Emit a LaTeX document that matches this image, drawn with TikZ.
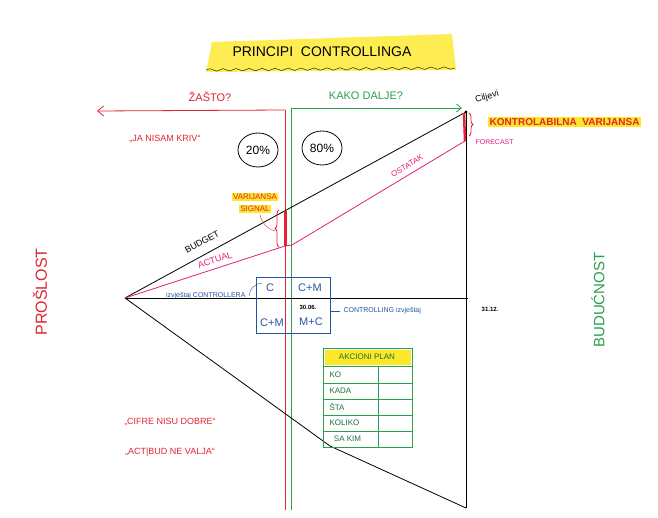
\documentclass[tikz,border=0pt]{standalone}
\usepackage{fontspec}
\setmainfont{Liberation Sans}
\usetikzlibrary{arrows.meta,shapes.geometric,decorations.pathreplacing,decorations.pathmorphing}
\definecolor{penred}{RGB}{226,35,50}
\definecolor{pengreen}{RGB}{40,160,75}
\definecolor{penpink}{RGB}{228,30,125}
\definecolor{penblue}{RGB}{35,85,165}
\definecolor{marker}{RGB}{252,232,40}
\tikzset{
  hand/.style={font=\fontsize{9}{10}\selectfont},
  hl/.style={fill=marker, text=penred, inner sep=1.5pt},
  cell/.style={anchor=west, pengreen!70!black, font=\fontsize{8}{9}\selectfont},
}
\begin{document}
\begin{tikzpicture}[x=1pt,y=-1pt]
\useasboundingbox (0,0) rectangle (658,518);
% title
\fill[marker!80] (212,42) -- (452,34) -- (456,70) -- (206,72) -- cycle;
\node[font=\fontsize{14}{16}\selectfont] (title) at (322,52) {PRINCIPI\ \ CONTROLLINGA};
\draw[decorate,decoration={snake,amplitude=1.2pt,segment length=13pt}] (206,70) -- (455,68);

% key points
\coordinate (apex) at (125,298);
\coordinate (goal) at (466,112);
\coordinate (midbud) at (285,211);
\coordinate (midact) at (285,246);
\coordinate (kink) at (292,245);
\coordinate (forecast) at (465,141);
\coordinate (axisend) at (468,298);
\coordinate (lowbend) at (330,446);
\coordinate (bottom) at (466,508);
\coordinate (past) at (285,110);
\coordinate (pastend) at (97,111);
\coordinate (fut) at (291,108);
\coordinate (futend) at (462,108);

% today lines and arrows
\draw[penred, thick] (past) -- (285,510);
\draw[pengreen, thick] (fut) -- (291,510);
\draw[penred, thick, -{Straight Barb[length=6pt,width=10pt]}] (past) -- (pastend);
\draw[pengreen, thick, -{Straight Barb[length=5pt,width=8pt]}] (fut) -- (futend);
\node[penred, font=\fontsize{11}{12}\selectfont] (why) at (210,97) {ŽAŠTO?};
\node[pengreen, font=\fontsize{11}{12}\selectfont] (how) at (366,96) {KAKO DAǇE?};

% triangle
\draw[thick] (apex) -- (axisend);
\draw[thick] (goal) -- (bottom);
\draw[thick] (apex) -- (lowbend) -- (bottom);
\draw[thick] (apex) -- (goal);
\draw[penpink, thick] (apex) -- (midact) -- (kink) -- (forecast);
\fill (goal) circle (1.6pt);

% variances
\draw[penred, line width=3pt] (midbud) -- (midact);
\draw[penred, thick, decorate, decoration={brace, amplitude=4pt}] (279,247) -- (279,210);
\draw[penred, line width=2.5pt] (464,113) -- (forecast);
\draw[penred, thick, decorate, decoration={brace, amplitude=4pt}] (469,113) -- (469,136);
\node[hl, font=\fontsize{8}{9}\selectfont] (signal1) at (255,197) {VARIJANSA};
\node[hl, font=\fontsize{8}{9}\selectfont] (signal2) at (255,209) {SIGNAL};
\draw[penred] (260,215) to[bend right=30] (275,231);
\node[hl, font=\fontsize{10}{11}\selectfont\bfseries, anchor=west] (ctrlvar) at (488,122) {KONTROLABILNA\ \ VARIJANSA};
\node[penpink, font=\fontsize{7}{8}\selectfont, anchor=west] (fc) at (472,142) {FORECAST};
\node[font=\fontsize{9}{10}\selectfont, rotate=15, anchor=west] (goals) at (472,101) {Ciǉevi};

% line labels
\node[rotate=28.6, hand] (budget) at (202,242) {BUDGET};
\node[rotate=18, penpink, hand] (actual) at (215,260) {ACTUAL};
\node[rotate=31, penpink, font=\fontsize{8}{9}\selectfont] (rest) at (407,166) {OSTATAK};

% shares
\node[draw, ellipse, thick, minimum width=40pt, minimum height=34pt, inner sep=0pt, font=\fontsize{12}{13}\selectfont] (twenty) at (258,150) {20\%};
\node[draw, ellipse, thick, minimum width=40pt, minimum height=34pt, inner sep=0pt, font=\fontsize{12}{13}\selectfont] (eighty) at (322,148) {80\%};

% quotes
\node[penred, hand] (quote1) at (165,139) {„JA NISAM KRIV“};
\node[penred, hand] (quote2) at (170,422) {„CIFRE NISU DOBRE“};
\node[penred, hand] (quote3) at (170,452) {„ACT|BUD NE VAǇA“};

% sides
\node[penred, rotate=90, font=\fontsize{16}{18}\selectfont] (pastlbl) at (40,292) {PROŠLOST};
\node[pengreen, rotate=90, font=\fontsize{15}{17}\selectfont] (futlbl) at (598,300) {BUDUĆNOST};

% reporting box
\node[draw=penblue, thick, minimum width=74pt, minimum height=56pt] (grid) at (293,305) {};
\node[penblue, font=\fontsize{11}{12}\selectfont] (c1) at (270,288) {C};
\node[penblue, font=\fontsize{11}{12}\selectfont] (c2) at (310,288) {C+M};
\node[penblue, font=\fontsize{11}{12}\selectfont] (c3) at (272,323) {C+M};
\node[penblue, font=\fontsize{11}{12}\selectfont] (c4) at (311,322) {M+C};
\node[font=\fontsize{6}{7}\selectfont\bfseries] (midyear) at (308,307) {30.06.};
\node[font=\fontsize{6}{7}\selectfont\bfseries] (yearend) at (490,309) {31.12.};
\node[penblue, font=\fontsize{7}{8}\selectfont, anchor=east] (ctrlrep) at (249,296) {izvještaj CONTROLLERA};
\draw[penblue] (ctrlrep.east) to[bend left=40] (262,283);
\node[penblue, font=\fontsize{7}{8}\selectfont, anchor=west] (repctrl) at (340,311) {CONTROLLING izvještaj};
\draw[penblue] (grid.east |- repctrl) -- (repctrl.west);

% action plan
\fill[marker] (325,350) rectangle (411,365);
\draw[pengreen, thick] (323,348) rectangle (412,447);
\foreach \y in {366,383,399,415,431}
  \draw[pengreen, thick] (323,\y) -- (412,\y);
\draw[pengreen, thick] (378,366) -- (378,447);
\node[pengreen!70!black, font=\fontsize{8}{9}\selectfont] (plan) at (367,357) {AKCIONI PLAN};
\foreach \y/\t in {374.5/KO, 391/KADA, 407/ŠTA, 423/KOLIKO, 439/\ \ SA KIM}
  \node[cell] at (326,\y) {\t};
\end{tikzpicture}
\end{document}
